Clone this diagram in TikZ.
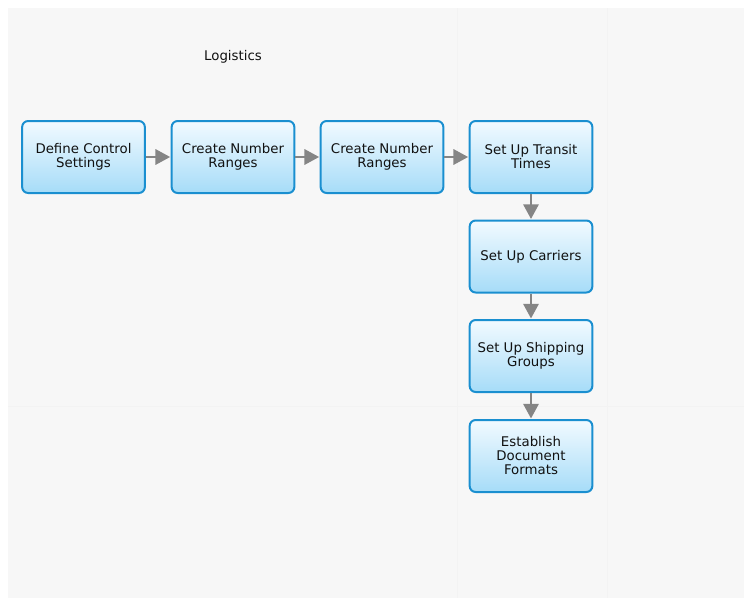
\documentclass[tikz,border=0pt]{standalone}
\usepackage{fontspec}
\setmainfont{DejaVu Sans}
\usetikzlibrary{arrows.meta}
\definecolor{bgc}{HTML}{F7F7F7}
\definecolor{lanec}{HTML}{F3F3F3}
\definecolor{boxborder}{HTML}{1A8FD0}
\definecolor{boxtop}{HTML}{F2FAFF}
\definecolor{boxbot}{HTML}{A6DCF8}
\definecolor{txt}{HTML}{111111}
\definecolor{arr}{HTML}{858585}
\tikzset{
  x=0.75pt, y=-0.75pt,
  stepbox/.style={draw=boxborder, line width=1.5pt, rounded corners=4.5pt,
    top color=boxtop, bottom color=boxbot, minimum width=92pt, minimum height=54pt,
    inner sep=0pt, align=center, text=txt, font=\fontsize{10pt}{10.5pt}\selectfont},
  flow/.style={draw=arr, line width=1.6pt, -{Triangle[length=11pt,width=11.5pt]}, shorten >=0.4pt},
}
\begin{document}
\begin{tikzpicture}
\useasboundingbox (0,0) rectangle (744,601);
\fill[white] (0,0) rectangle (744,601);
\fill[bgc] (8,8) rectangle (744,598);
\draw[lanec, line width=0.75pt] (457,8) -- (457,598);
\draw[lanec, line width=0.75pt] (607,8) -- (607,598);
\draw[lanec, line width=0.75pt] (8,406) -- (744,406);
\node[text=txt, font=\fontsize{10pt}{12pt}\selectfont] (title) at (233,57) {Logistics};
\node[stepbox] (b1) at (83.5,157) {Define Control\\Settings};
\node[stepbox] (b2) at (233,157) {Create Number\\Ranges};
\node[stepbox] (b3) at (382,157) {Create Number\\Ranges};
\node[stepbox] (b4) at (531,157) {Set Up Transit\\Times};
\node[stepbox] (b5) at (531,256.5) {Set Up Carriers};
\node[stepbox] (b6) at (531,356) {Set Up Shipping\\Groups};
\node[stepbox] (b7) at (531,456) {Establish\\Document\\Formats};
\draw[flow] (b1) -- (b2);
\draw[flow] (b2) -- (b3);
\draw[flow] (b3) -- (b4);
\draw[flow] (b4) -- (b5);
\draw[flow] (b5) -- (b6);
\draw[flow] (b6) -- (b7);
\end{tikzpicture}
\end{document}
